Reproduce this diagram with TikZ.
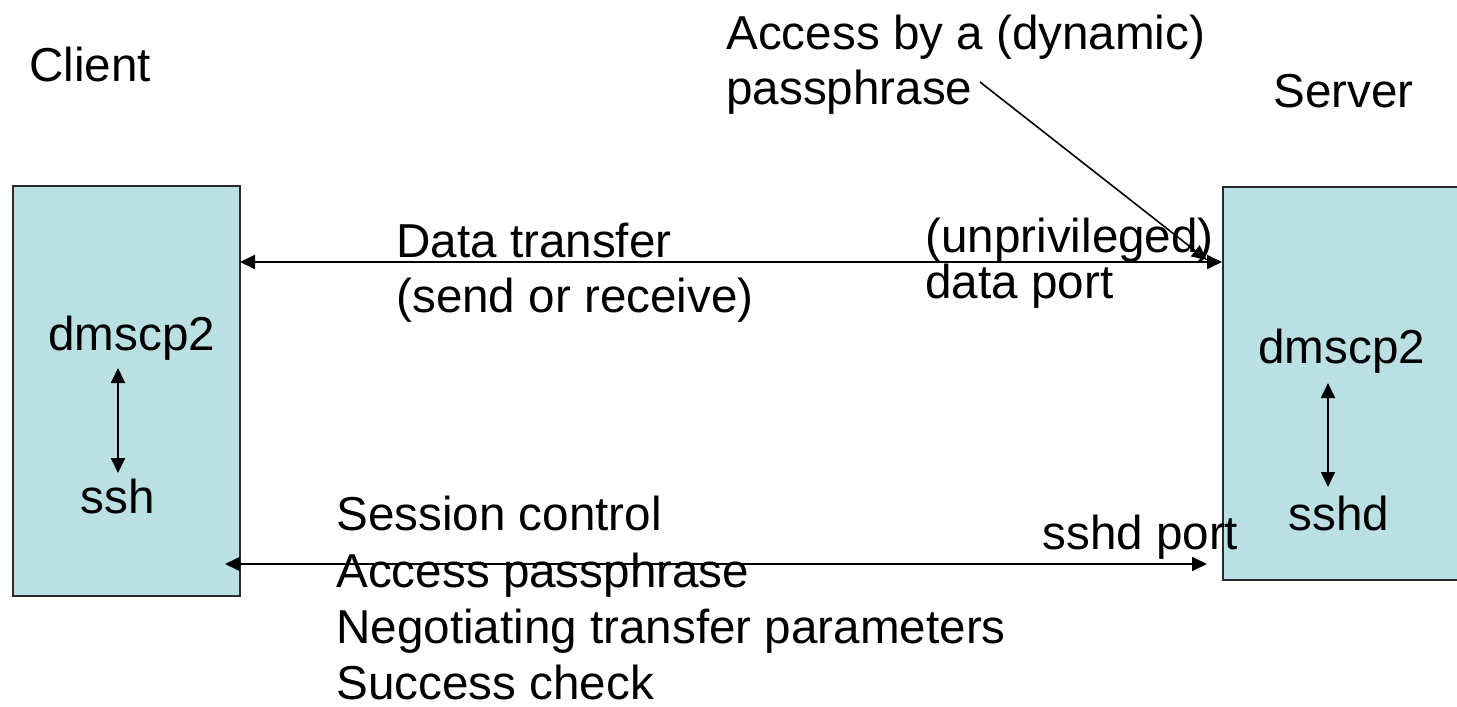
\documentclass[tikz,border=0pt]{standalone}
\usepackage{fontspec}
\setmainfont{Liberation Sans}
\usetikzlibrary{arrows.meta}
\definecolor{boxfill}{HTML}{BBE0E3}
\definecolor{boxline}{HTML}{2A2A2A}
\begin{document}
\begin{tikzpicture}[x=0.5pt,y=-0.5pt,
  lbl/.style={inner sep=0pt,anchor=base west,font=\fontsize{23.8}{28}\selectfont},
  hostbox/.style={draw=boxline,fill=boxfill,line width=1pt,inner sep=0pt,anchor=north west},
  conn/.style={line width=0.9pt,{Triangle[length=7.5pt,width=7pt]}-{Triangle[length=7.5pt,width=7pt]}},
  oneway/.style={line width=0.8pt,-{Triangle[length=7.5pt,width=7pt]}}]
\useasboundingbox (0,0) rectangle (1457,707);
\begin{scope}
\clip (0,0) rectangle (1457,707);
\node[hostbox,minimum width=113.5pt,minimum height=205pt] (lbox) at (12,185) {};
\node[hostbox,minimum width=125pt,minimum height=196.5pt] (rbox) at (1222,186) {};
\end{scope}
% titles
\node[lbl] (client) at (29,81) {Client};
\node[lbl] (server) at (1273,107) {Server};
\node[lbl] (acc1) at (726,49) {Access by a (dynamic)};
\node[lbl] (acc2) at (726,104) {passphrase};
% data link labels
\node[lbl] (dt1) at (396,257) {Data transfer};
\node[lbl] (dt2) at (396,312) {(send or receive)};
\node[lbl] (up1) at (925,252) {(unprivileged)};
\node[lbl] (up2) at (925,298) {data port};
% inside boxes
\node[lbl] (ldm) at (48,350) {dmscp2};
\node[lbl] (lssh) at (80,513) {ssh};
\node[lbl] (rdm) at (1258,363) {dmscp2};
\node[lbl] (rssh) at (1288,530) {sshd};
% session labels
\node[lbl] (s1) at (336,530) {Session control};
\node[lbl] (s2) at (336,587) {Access passphrase};
\node[lbl] (s3) at (336,643) {Negotiating transfer parameters};
\node[lbl] (s4) at (336,699) {Success check};
\node[lbl] (sp) at (1042,549) {sshd port};
% connector end points
\coordinate (dL) at (240,262);
\coordinate (dR) at (1222,262);
\coordinate (sL) at (225,564);
\coordinate (sR) at (1207,564);
\coordinate (lT) at (118,368);
\coordinate (lB) at (118,473);
\coordinate (rT) at (1328,383);
\coordinate (rB) at (1328,487);
\coordinate (pS) at (980,82);
\coordinate (pE) at (1207,260);
% connectors
\draw[conn] (dL) -- (dR);
\draw[conn] (sL) -- (sR);
\draw[conn] (lT) -- (lB);
\draw[conn] (rT) -- (rB);
\draw[oneway] (pS) -- (pE);
\end{tikzpicture}
\end{document}
